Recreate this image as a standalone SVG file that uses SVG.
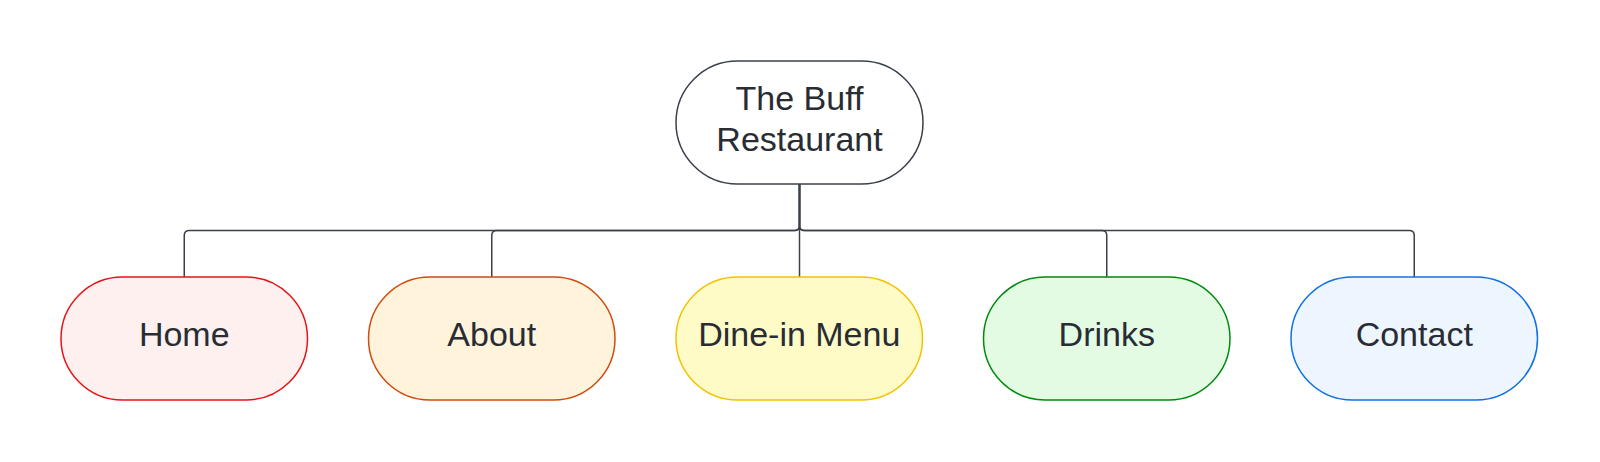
<svg xmlns="http://www.w3.org/2000/svg" width="1600" height="462" viewBox="0 0 1600 462">
  <style>
    .node { stroke-width: 1.5; }
    .label { font-family: "Liberation Sans", Arial, sans-serif; font-size: 34px; fill: #282c33; text-anchor: middle; }
    .conn { fill: none; stroke: #3a414a; stroke-width: 1.5; }
  </style>
  <rect width="1600" height="462" fill="#ffffff"/>
  <g id="connectors">
    <path class="conn" d="M799.5 184 V225.5 Q799.5 230.5 794.5 230.5 H189.25 Q184.25 230.5 184.25 235.5 V277"/>
    <path class="conn" d="M799.5 184 V225.5 Q799.5 230.5 794.5 230.5 H496.75 Q491.75 230.5 491.75 235.5 V277"/>
    <path class="conn" d="M799.5 184 V277"/>
    <path class="conn" d="M799.5 184 V225.5 Q799.5 230.5 804.5 230.5 H1101.75 Q1106.75 230.5 1106.75 235.5 V277"/>
    <path class="conn" d="M799.5 184 V225.5 Q799.5 230.5 804.5 230.5 H1409.25 Q1414.25 230.5 1414.25 235.5 V277"/>
  </g>
  <g id="root">
    <rect class="node" x="676" y="61" width="247" height="123" rx="61.5" fill="#ffffff" stroke="#3a414a"/>
    <text class="label" x="799.5" y="110">The Buff</text>
    <text class="label" x="799.5" y="151">Restaurant</text>
  </g>
  <g id="home">
    <rect class="node" x="61" y="277" width="246.5" height="123" rx="61.5" fill="#fff0f0" stroke="#e81313"/>
    <text class="label" x="184.25" y="345.5">Home</text>
  </g>
  <g id="about">
    <rect class="node" x="368.5" y="277" width="246.5" height="123" rx="61.5" fill="#fff3db" stroke="#cf4c0e"/>
    <text class="label" x="491.75" y="345.5">About</text>
  </g>
  <g id="dine-in-menu">
    <rect class="node" x="676" y="277" width="246.5" height="123" rx="61.5" fill="#fffbc7" stroke="#f2c200"/>
    <text class="label" x="799.25" y="345.5">Dine-in Menu</text>
  </g>
  <g id="drinks">
    <rect class="node" x="983.5" y="277" width="246.5" height="123" rx="61.5" fill="#e3fae3" stroke="#008a0e"/>
    <text class="label" x="1106.75" y="345.5">Drinks</text>
  </g>
  <g id="contact">
    <rect class="node" x="1291" y="277" width="246.5" height="123" rx="61.5" fill="#edf5ff" stroke="#1071e5"/>
    <text class="label" x="1414.25" y="345.5">Contact</text>
  </g>
</svg>
